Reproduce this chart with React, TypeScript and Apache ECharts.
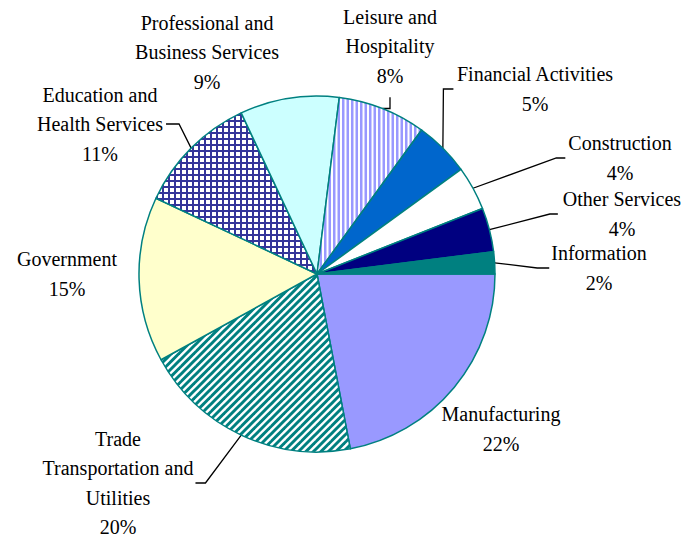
import React, { useEffect, useRef } from 'react';
import * as echarts from 'echarts';

// ---- data ----
const categories = [
  'Manufacturing',
  'Trade\nTransportation and\nUtilities',
  'Government',
  'Education and\nHealth Services',
  'Professional and\nBusiness Services',
  'Leisure and\nHospitality',
  'Financial Activities',
  'Construction',
  'Other Services',
  'Information',
];
const shares = [22, 20, 15, 11, 9, 8, 5, 4, 4, 2];

// ---- styling / layout (not data) ----
type Fill = { kind: 'solid' | 'diag' | 'grid' | 'vstripe'; color: string };
const FILLS: Fill[] = [
  { kind: 'solid', color: '#9999FF' },
  { kind: 'diag', color: '#008080' },
  { kind: 'solid', color: '#FFFFCC' },
  { kind: 'grid', color: '#34349A' },
  { kind: 'solid', color: '#CCFFFF' },
  { kind: 'vstripe', color: '#9999FF' },
  { kind: 'solid', color: '#0066CC' },
  { kind: 'solid', color: '#FFFFFF' },
  { kind: 'solid', color: '#000080' },
  { kind: 'solid', color: '#008080' },
];

type LabelPos = { x: number; y: number; side: 'none' | 'left' | 'right' | 'bottom'; gap?: number; elbow?: number };
const LABEL_LAYOUT: LabelPos[] = [
  { x: 501, y: 429, side: 'none' },
  { x: 118, y: 483, side: 'right', gap: 2, elbow: 10 },
  { x: 67, y: 274, side: 'none' },
  { x: 100, y: 124, side: 'right', gap: 3, elbow: 13 },
  { x: 207, y: 52, side: 'none' },
  { x: 390, y: 46, side: 'bottom', gap: 7 },
  { x: 535, y: 89, side: 'left', gap: 3, elbow: 10 },
  { x: 620, y: 158, side: 'left', gap: 3, elbow: 9 },
  { x: 622, y: 214, side: 'left', gap: 5, elbow: 8 },
  { x: 599, y: 268, side: 'left', gap: 2, elbow: 12 },
];

function makePattern(kind: string, color: string): any {
  const c = document.createElement('canvas');
  let size = 8;
  if (kind === 'diag') size = 15;
  if (kind === 'grid') size = 6;
  if (kind === 'vstripe') size = 9;
  c.width = size;
  c.height = size;
  const ctx = c.getContext('2d')!;
  ctx.fillStyle = '#ffffff';
  ctx.fillRect(0, 0, size, size);
  ctx.fillStyle = color;
  ctx.strokeStyle = color;
  if (kind === 'diag') {
    ctx.lineWidth = 3;
    for (let k = -2; k <= 5; k++) {
      const cc = k * 7.5;
      ctx.beginPath();
      ctx.moveTo(cc - 20, 20);
      ctx.lineTo(cc + 20, -20);
      ctx.stroke();
    }
  } else if (kind === 'grid') {
    ctx.fillRect(0, 0, size, 2);
    ctx.fillRect(0, 0, 2, size);
  } else if (kind === 'vstripe') {
    ctx.fillRect(0, 0, 2.5, size);
    ctx.fillRect(4.5, 0, 2.5, size);
  }
  return { image: c, repeat: 'repeat', imageWidth: size, imageHeight: size };
}

export default function App() {
  const ref = useRef<HTMLDivElement>(null);
  useEffect(() => {
    if (!ref.current) return;
    const chart = echarts.init(ref.current, undefined, { renderer: 'svg' });
    const data = categories.map((name, i) => {
      const f = FILLS[i];
      const color = f.kind === 'solid' ? f.color : makePattern(f.kind, f.color);
      const hasLine = LABEL_LAYOUT[i].side !== 'none';
      return {
        name,
        value: shares[i],
        itemStyle: { color },
        labelLine: { show: hasLine },
      };
    });
    chart.setOption({
      animation: false,
      backgroundColor: '#ffffff',
      series: [
        {
          type: 'pie',
          silent: true,
          center: [317, 274],
          radius: 178,
          startAngle: 0,
          clockwise: true,
          avoidLabelOverlap: false,
          itemStyle: { borderColor: '#008080', borderWidth: 1.5 },
          label: {
            show: true,
            position: 'outside',
            formatter: (p: any) => `${p.name}\n${p.value}%`,
            fontFamily: 'Liberation Serif, Times New Roman, serif',
            fontSize: 20,
            lineHeight: 29.5,
            color: '#000000',
            align: 'center',
          },
          labelLine: {
            show: true,
            length: 10,
            length2: 10,
            lineStyle: { color: '#000000', width: 1.3 },
          },
          labelLayout: (params: any) => {
            const L = LABEL_LAYOUT[params.dataIndex];
            const w = params.labelRect.width;
            const h = params.labelRect.height;
            const res: any = { x: L.x, y: L.y, align: 'center', verticalAlign: 'middle' };
            const pts = params.labelLinePoints;
            if (pts && L.side !== 'none') {
              const p0 = [pts[0][0], pts[0][1]];
              let p1: number[];
              let p2: number[];
              if (L.side === 'right') {
                p2 = [L.x + w / 2 + (L.gap || 0), L.y];
                p1 = [p2[0] + (L.elbow || 0), L.y];
              } else if (L.side === 'left') {
                p2 = [L.x - w / 2 - (L.gap || 0), L.y];
                p1 = [p2[0] - (L.elbow || 0), L.y];
              } else {
                p2 = [L.x, L.y + h / 2 + (L.gap || 0)];
                p1 = [L.x, p0[1]];
              }
              res.labelLinePoints = [p0, p1, p2];
            }
            return res;
          },
          data,
        },
      ],
    });
    return () => chart.dispose();
  }, []);
  return (
    <div
      ref={ref}
      style={{ position: 'fixed', left: 0, top: 0, width: 692, height: 537, background: '#fff' }}
    />
  );
}
